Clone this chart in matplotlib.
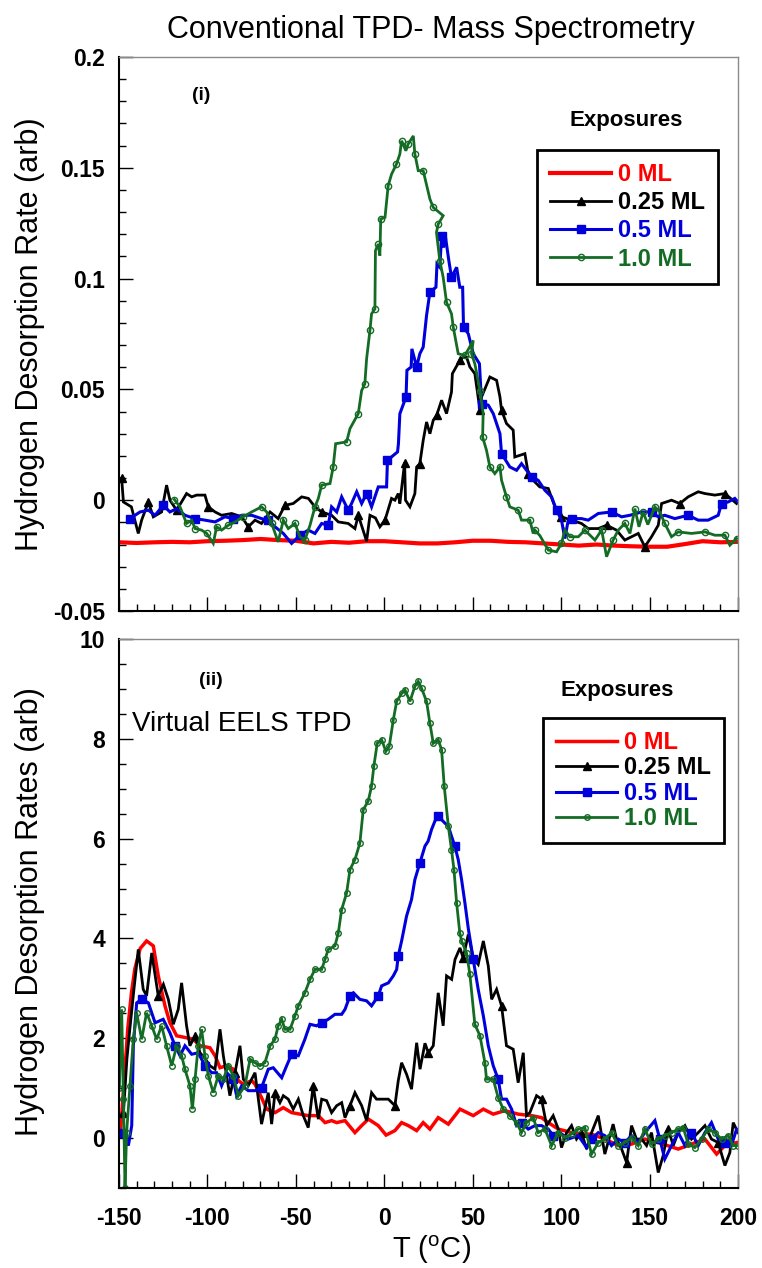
import matplotlib
matplotlib.use("Agg")
import matplotlib.pyplot as plt
from matplotlib.ticker import MultipleLocator

plt.rcParams['font.family'] = ['Liberation Sans', 'DejaVu Sans']
plt.rcParams['mathtext.fontset'] = 'custom'
plt.rcParams['mathtext.rm'] = 'Liberation Sans'
plt.rcParams['axes.unicode_minus'] = False

# ---------------- data ----------------
labels = ['0 ML', '0.25 ML', '0.5 ML', '1.0 ML']
colors = ['#ff0000', '#000000', '#0000dd', '#136b24']

# Panel (i): conventional TPD
top_T_0 = [-150,-140,-130,-120,-110,-100,-90,-80,-70,-60,-50,-40,-30,-20,-10,0,10,20,30,40,50,60,70,80,90,100,110,120,130,140,150,160,170,180,190,200]
top_v_0 = [-0.0190,-0.0193,-0.0190,-0.0188,-0.0190,-0.0185,-0.0183,-0.0180,-0.0175,-0.0180,-0.0183,-0.0195,-0.0188,-0.0192,-0.0185,-0.0185,-0.0190,-0.0195,-0.0195,-0.0190,-0.0183,-0.0183,-0.0188,-0.0190,-0.0195,-0.0200,-0.0205,-0.0200,-0.0205,-0.0208,-0.0210,-0.0210,-0.0198,-0.0185,-0.0190,-0.0188]

top_T_1 = [-148.5,-147.5,-143.0,-139.1,-137.2,-133.4,-130.6,-125.9,-123.1,-121.2,
           -117.4,-111.8,-108.9,-106.1,-101.4,-99.5,-95.7,-92.0,-86.3,-80.6,
           -76.9,-73.1,-69.4,-64.6,-60.0,-56.2,-51.5,-46.7,-42.9,-39.2,
           -35.4,-29.8,-26.0,-20.4,-16.6,-14.7,-10.0,-8.1,-5.0,-2.5,
           0.4,4.1,6.0,7.9,8.8,11.5,12.0,14.5,17.3,18.3,
           20.1,22.0,23.9,25.8,27.7,29.6,32.4,35.2,38.0,38.5,
           42.7,44.6,46.5,48.4,51.2,54.1,55.0,59.7,63.5,65.4,
           66.3,69.1,72.9,73.8,79.5,81.4,84.2,87.9,92.7,96.5,
           100.2,105.9,111.5,115.3,121.0,125.7,131.3,136.0,139.8,143.6,
           147.3,151.1,154.9,156.8,162.4,167.1,171.8,177.5,181.3,186.9,
           192.6,199.2]
top_v_1 = [0.0098,-0.0008,-0.0030,-0.0150,-0.0090,-0.0008,-0.0075,-0.0053,0.0068,0.0000,
           -0.0045,0.0030,0.0015,0.0023,0.0023,-0.0030,-0.0053,-0.0068,-0.0060,-0.0075,
           -0.0120,-0.0090,-0.0105,-0.0053,-0.0083,-0.0023,-0.0015,0.0015,0.0008,-0.0030,
           -0.0053,-0.0068,-0.0098,-0.0105,-0.0128,-0.0068,-0.0185,-0.0068,-0.0080,-0.0120,
           -0.0090,0.0008,0.0000,0.0030,-0.0015,0.0170,0.0000,-0.0030,0.0030,0.0150,
           0.0165,0.0270,0.0353,0.0300,0.0361,0.0383,0.0451,0.0391,0.0488,0.0571,
           0.0631,0.0646,0.0646,0.0601,0.0571,0.0406,0.0466,0.0556,0.0541,0.0466,
           0.0406,0.0346,0.0316,0.0195,0.0210,0.0120,0.0090,0.0060,0.0053,-0.0030,
           -0.0075,-0.0090,-0.0105,-0.0128,-0.0128,-0.0113,-0.0135,-0.0180,-0.0165,-0.0150,
           -0.0210,-0.0165,-0.0113,-0.0015,0.0000,-0.0015,0.0015,0.0038,0.0030,0.0023,
           0.0030,-0.0015]

top_T_2 = [-143.8,-138.1,-133.4,-129.6,-125.0,-121.2,-117.4,-112.7,-107.0,-101.4,
           -95.7,-90.1,-85.4,-80.6,-75.0,-69.4,-65.6,-61.8,-57.1,-52.4,
           -47.7,-43.0,-39.2,-35.4,-31.7,-29.8,-26.9,-24.1,-20.4,-18.5,
           -15.6,-12.8,-10.0,-7.2,-3.4,1.3,1.8,7.5,8.0,8.8,
           12.3,12.8,15.2,15.6,18.3,20.1,22.0,23.9,25.8,29.2,
           29.8,31.4,32.4,33.5,34.5,36.5,38.0,40.9,42.7,44.3,
           44.8,47.5,50.3,53.8,55.0,58.8,61.6,65.4,66.3,71.0,
           74.8,77.6,83.3,87.0,90.8,94.6,97.4,100.2,102.1,104.0,
           105.9,111.5,115.3,121.0,128.5,134.2,138.9,145.5,151.1,154.9,
           158.6,164.3,171.8,177.5,183.1,188.8,190.7,194.4,198.2,200.0]
top_v_2 = [-0.0083,-0.0053,-0.0045,-0.0068,-0.0023,-0.0053,-0.0038,-0.0068,-0.0083,-0.0090,
           -0.0098,-0.0075,-0.0083,-0.0068,-0.0068,-0.0083,-0.0090,-0.0120,-0.0150,-0.0195,
           -0.0158,-0.0135,-0.0150,-0.0105,-0.0113,-0.0030,-0.0053,0.0015,-0.0045,-0.0015,
           0.0038,-0.0015,0.0030,-0.0030,0.0060,0.0060,0.0180,0.0218,0.0255,0.0390,
           0.0466,0.0586,0.0601,0.0683,0.0601,0.0661,0.0691,0.0834,0.0939,0.0961,
           0.1066,0.1051,0.1194,0.1140,0.1194,0.1081,0.1006,0.1051,0.0961,0.0961,
           0.0781,0.0751,0.0661,0.0616,0.0436,0.0429,0.0391,0.0300,0.0210,0.0150,
           0.0135,0.0165,0.0105,0.0090,0.0045,0.0015,-0.0045,-0.0090,-0.0173,-0.0090,
           -0.0083,-0.0083,-0.0090,-0.0060,-0.0053,-0.0075,-0.0068,-0.0053,-0.0053,-0.0075,
           -0.0068,-0.0083,-0.0068,-0.0090,-0.0090,-0.0068,-0.0015,-0.0008,0.0008,-0.0008]

top_T_3 = [-118.7,-115.5,-111.8,-108.9,-107.0,-103.3,-100.4,-96.7,-94.8,-92.0,
           -88.2,-84.4,-79.7,-75.0,-69.4,-66.5,-63.7,-60.0,-57.1,-54.3,
           -50.5,-47.7,-44.9,-42.0,-39.2,-37.3,-35.4,-30.7,-28.9,-27.5,
           -21.3,-19.4,-14.7,-12.8,-11.0,-10.0,-8.1,-7.2,-5.3,-5.0,
           -3.4,-2.5,-2.0,0.4,2.2,4.1,6.9,8.8,9.8,12.2,
           13.5,16.4,17.3,19.2,22.0,25.8,27.7,33.3,30.5,29.5,
           31.4,33.3,35.2,38.0,39.0,41.8,45.6,50.3,49.3,51.2,
           54.1,55.9,55.6,57.8,59.7,62.5,65.4,66.3,69.1,71.0,
           75.7,77.6,82.3,84.2,85.2,88.0,92.7,97.4,100.2,102.1,
           105.0,109.7,113.4,119.1,122.9,125.7,129.4,132.3,136.0,138.9,
           141.7,144.0,146.4,149.0,153.0,155.8,158.6,162.4,166.2,173.7,
           181.3,186.9,192.6,195.4,199.2]
top_v_3 = [0.0003,-0.0030,-0.0105,-0.0090,-0.0128,-0.0135,-0.0150,-0.0195,-0.0120,-0.0135,
           -0.0113,-0.0098,-0.0075,-0.0053,-0.0030,-0.0053,-0.0105,-0.0188,-0.0090,-0.0128,
           -0.0105,-0.0165,-0.0180,-0.0113,-0.0030,0.0008,0.0068,0.0075,0.0150,0.0255,
           0.0263,0.0323,0.0391,0.0495,0.0525,0.0638,0.0766,0.0841,0.0863,0.1126,
           0.1156,0.1104,0.1269,0.1276,0.1419,0.1471,0.1517,0.1562,0.1622,0.1577,
           0.1607,0.1644,0.1562,0.1487,0.1487,0.1359,0.1321,0.1284,0.1246,0.1209,
           0.1081,0.1006,0.0893,0.0841,0.0781,0.0661,0.0653,0.0721,0.0661,0.0616,
           0.0495,0.0391,0.0285,0.0225,0.0150,0.0120,0.0150,0.0090,0.0015,-0.0030,
           -0.0045,-0.0090,-0.0090,-0.0150,-0.0135,-0.0160,-0.0225,-0.0233,-0.0195,-0.0135,
           -0.0165,-0.0165,-0.0135,-0.0180,-0.0135,-0.0255,-0.0180,-0.0135,-0.0105,-0.0150,
           -0.0038,-0.0120,-0.0053,-0.0110,-0.0030,-0.0053,-0.0105,-0.0165,-0.0143,-0.0150,
           -0.0143,-0.0158,-0.0158,-0.0203,-0.0173]

# Panel (ii): virtual EELS TPD
bot_T_0 = [-149.0,-147.0,-145.0,-143.0,-141.0,-138.0,-134.4,-130.6,-127.8,-124.0,
           -121.2,-117.4,-111.8,-108.0,-104.2,-98.6,-95.7,-92.9,-89.1,-85.4,
           -82.5,-79.7,-75.0,-73.1,-69.4,-66.5,-61.8,-57.1,-52.4,-47.7,
           -43.0,-37.3,-33.5,-29.8,-26.9,-22.2,-16.6,-12.8,-9.0,-3.4,
           1.0,6.0,9.8,13.6,18.3,22.0,25.8,30.5,36.2,42.8,
           50.3,56.0,61.6,68.2,75.7,83.3,88.9,92.7,98.4,105.9,
           111.5,117.2,124.7,132.3,139.8,147.3,154.9,166.2,173.7,181.3,
           187.9,192.6,199.2]
bot_v_0 = [0.2,1.2,2.2,2.9,3.4,3.8,3.95,3.85,3.25,2.65,
           2.31,2.05,2.01,1.98,1.85,1.81,1.65,1.41,1.45,1.38,
           1.15,1.08,1.15,1.08,0.81,0.58,0.51,0.61,0.51,0.48,
           0.45,0.45,0.31,0.35,0.31,0.35,0.11,0.25,0.38,0.25,
           0.06,0.15,0.31,0.25,0.15,0.31,0.18,0.41,0.28,0.58,
           0.45,0.58,0.48,0.55,0.48,0.45,0.41,0.31,0.18,0.11,
           0.08,0.08,-0.02,-0.15,-0.12,-0.02,-0.09,-0.22,-0.12,-0.02,
           -0.32,-0.15,-0.09]

bot_T_1 = [-147.5,-145.5,-143.8,-141.5,-139.1,-136.3,-134.4,-131.5,-127.8,-124.9,
           -122.1,-119.3,-116.5,-114.6,-111.8,-109.9,-107.0,-104.2,-101.5,-98.6,
           -95.7,-92.9,-91.0,-87.3,-84.4,-81.6,-79.7,-76.9,-73.1,-69.4,
           -65.6,-63.7,-61.8,-59.0,-57.1,-54.3,-51.5,-48.6,-45.8,-43.0,
           -40.2,-37.3,-35.4,-32.6,-29.8,-26.9,-24.1,-22.2,-19.4,-16.6,
           -12.8,-10.0,-7.2,-4.4,-1.5,2.3,6.0,7.9,9.8,12.6,
           15.4,18.3,20.2,23.0,24.9,27.7,30.5,33.3,35.2,38.1,
           40.0,42.8,44.6,47.5,50.3,53.1,56.0,58.8,60.7,63.5,
           66.3,69.1,72.9,75.7,78.6,80.4,82.3,86.1,88.9,91.8,
           95.5,98.4,100.2,103.1,105.9,108.7,111.5,114.4,117.2,121.0,
           124.7,129.4,131.3,134.2,137.0,139.8,142.6,145.5,148.3,151.1,
           154.9,157.7,160.5,163.4,166.2,170.0,173.7,177.5,181.3,185.0,
           188.8,192.6,195.4,197.3,200.0]
bot_v_1 = [0.5,1.6,2.21,3.0,3.78,2.98,2.85,3.71,2.85,3.08,
           2.78,2.28,2.58,3.11,2.25,1.85,2.05,1.71,1.60,1.45,
           1.38,2.18,1.65,0.85,1.31,1.85,1.18,1.05,1.31,0.28,
           0.91,0.28,0.91,0.71,0.85,0.78,0.58,0.78,0.45,0.21,
           1.05,0.38,0.78,0.75,0.51,0.65,0.71,0.41,0.65,0.91,
           0.65,0.35,0.91,0.78,0.78,0.78,0.65,1.15,1.51,1.28,
           0.98,1.91,1.38,1.90,1.71,1.85,2.91,2.25,3.25,3.18,
           3.58,3.81,3.61,4.08,3.61,3.48,3.95,3.45,2.78,2.98,
           2.65,1.85,1.78,1.11,1.71,0.45,0.51,0.85,0.78,0.25,
           0.45,0.18,-0.19,0.11,0.25,-0.02,0.11,-0.22,0.11,0.45,
           -0.32,0.28,-0.02,-0.22,-0.49,0.25,-0.02,-0.02,-0.15,0.11,
           -0.69,-0.35,0.18,-0.15,0.11,0.25,-0.02,0.11,0.25,-0.02,
           -0.09,-0.55,-0.29,0.31,0.11]

bot_T_2 = [-147.5,-144.7,-142.8,-141.9,-140.0,-137.2,-133.4,-129.6,-125.0,-121.2,
           -118.3,-115.5,-112.7,-108.9,-105.2,-101.4,-97.6,-94.8,-92.0,-89.1,
           -85.4,-83.5,-80.6,-76.9,-73.1,-69.4,-65.6,-62.8,-58.0,-55.2,
           -52.4,-48.6,-44.9,-42.0,-38.3,-35.4,-31.7,-27.9,-24.1,-22.2,
           -19.4,-17.5,-13.8,-10.0,-7.2,-3.4,-1.5,2.3,5.1,7.0,
           7.9,9.8,12.6,15.4,17.3,20.1,23.0,24.8,26.7,28.6,
           30.5,32.4,34.3,36.2,38.0,39.9,41.8,43.7,45.6,47.5,
           50.3,53.1,56.0,58.8,61.6,64.4,66.3,69.1,72.0,74.8,
           77.6,81.4,85.2,88.9,92.7,95.5,99.3,104.0,109.7,114.4,
           117.2,121.0,124.7,128.5,132.3,136.0,139.8,143.6,147.3,153.0,
           155.8,158.6,162.4,166.2,170.0,173.7,177.5,181.3,185.0,188.8,
           192.6,196.3,199.2]
bot_v_2 = [0.11,-0.15,0.25,1.85,2.71,2.78,2.71,2.31,2.38,2.11,
           1.85,1.65,1.85,1.68,1.71,1.45,1.31,1.31,1.05,1.31,
           1.18,0.85,1.05,0.95,0.95,1.01,1.38,1.41,1.21,1.45,
           1.68,1.65,1.98,2.28,2.25,2.31,2.38,2.48,2.48,2.58,
           2.85,2.91,2.78,2.75,2.65,2.85,3.05,3.11,3.25,3.38,
           3.65,3.95,4.45,4.78,5.18,5.51,5.85,5.95,6.18,6.35,
           6.45,6.38,6.31,6.25,6.05,5.85,5.58,5.18,4.71,4.20,
           3.58,2.98,2.45,1.85,1.45,1.18,0.78,0.78,0.58,0.25,
           0.31,0.18,0.25,0.25,0.18,0.05,0.11,-0.02,0.05,-0.19,
           -0.02,0.11,0.05,-0.15,-0.02,-0.09,0.05,-0.09,0.11,0.35,
           -0.02,-0.42,-0.15,0.11,-0.15,0.11,-0.15,0.11,0.31,-0.02,
           -0.09,-0.15,0.18]

bot_T_3 = [-149.8,-148.5,-147.5,-146.6,-145.7,-143.8,-141.9,-140.0,-137.2,-134.4,
           -131.5,-128.7,-125.9,-123.1,-120.2,-117.4,-114.6,-112.7,-109.9,-108.5,
           -107.0,-105.2,-103.3,-101.4,-99.5,-96.7,-93.9,-91.0,-88.2,-85.4,
           -82.5,-78.8,-75.9,-73.1,-70.3,-67.5,-64.6,-61.8,-60.0,-58.0,
           -56.2,-53.3,-50.5,-48.6,-44.9,-42.0,-39.2,-35.4,-33.5,-31.7,
           -27.9,-26.0,-24.1,-21.3,-19.4,-16.6,-13.8,-11.9,-9.1,-7.2,
           -5.9,-4.0,-1.5,0.9,2.8,5.1,7.0,9.8,11.7,14.5,
           17.3,19.2,21.1,23.9,25.8,27.7,30.5,32.4,33.9,36.2,
           38.0,39.4,40.9,42.7,43.7,46.5,48.4,51.2,54.1,56.9,
           57.8,61.6,64.4,67.3,71.0,74.8,77.6,80.4,84.2,87.0,
           90.8,94.6,98.4,102.1,105.9,109.7,113.4,117.2,121.0,124.7,
           128.5,132.3,136.0,139.8,143.6,147.3,151.1,154.9,158.6,162.4,
           166.2,169.0,171.9,175.6,179.4,183.1,186.9,190.7,194.5,197.3,
           200.0]
bot_v_3 = [1.0,2.58,0.78,-1.0,0.11,1.05,1.98,2.51,1.98,2.51,
           2.25,1.98,2.25,1.85,1.45,1.85,1.65,1.38,1.05,0.58,
           1.18,1.85,2.18,1.65,1.25,0.91,1.25,1.18,1.45,1.25,
           0.85,1.05,1.58,1.51,1.45,1.51,1.85,1.98,2.25,2.38,
           2.18,2.18,2.45,2.65,2.91,3.18,3.38,3.38,3.58,3.78,
           3.85,4.11,4.58,4.91,5.38,5.58,5.91,6.58,6.75,7.05,
           7.45,7.91,7.98,7.75,7.85,8.38,8.75,8.91,8.98,8.75,
           9.05,9.15,9.01,8.75,8.31,7.91,7.98,7.78,7.05,6.25,
           5.78,5.38,4.71,4.11,3.95,3.71,3.28,2.28,2.05,1.51,
           1.18,1.18,0.81,0.58,0.45,0.31,0.11,0.31,0.41,0.11,
           0.18,-0.15,0.11,0.01,0.08,0.18,0.21,-0.32,-0.09,-0.02,
           0.11,-0.15,-0.09,0.01,-0.15,0.18,-0.12,-0.02,0.05,0.11,
           0.18,0.21,-0.12,-0.19,-0.02,0.18,0.11,-0.02,0.05,-0.15,
           -0.15]

x_ticks = [-150, -100, -50, 0, 50, 100, 150, 200]
x_ticklabels = ['-150', '-100', '-50', '0', '50', '100', '150', '200']
top_yticks = [-0.05, 0, 0.05, 0.1, 0.15, 0.2]
top_yticklabels = ['-0.05', '0', '0.05', '0.1', '0.15', '0.2']
bot_yticks = [0, 2, 4, 6, 8, 10]
bot_yticklabels = ['0', '2', '4', '6', '8', '10']

# ---------------- figure ----------------
W, H = 762, 1268
fig = plt.figure(figsize=(W / 100, H / 100), dpi=100)
ax1 = fig.add_axes([119 / W, 1 - 611 / H, 619 / W, 554 / H])
ax2 = fig.add_axes([119 / W, 1 - 1188 / H, 619 / W, 549 / H])

markers = [None, '^', 's', 'o']


def draw(ax, Ts, Vs, lws, msizes, every):
    handles = []
    for i in range(4):
        kw = dict(color=colors[i], lw=lws[i], solid_joinstyle='miter')
        if markers[i] is not None:
            kw.update(marker=markers[i], ms=msizes[i], markevery=every[i])
            if markers[i] == 'o':
                kw.update(mfc='none', mec=colors[i], mew=1.0)
            else:
                kw.update(mfc=colors[i], mec=colors[i])
        h, = ax.plot(Ts[i], Vs[i], label=labels[i], **kw)
        handles.append(h)
    return handles


h1 = draw(ax1, [top_T_0, top_T_1, top_T_2, top_T_3],
          [top_v_0, top_v_1, top_v_2, top_v_3],
          [3.0, 2.0, 2.2, 2.0], [0, 5.5, 5.5, 4.5], [None, 5, 4, 2])
h2 = draw(ax2, [bot_T_0, bot_T_1, bot_T_2, bot_T_3],
          [bot_v_0, bot_v_1, bot_v_2, bot_v_3],
          [2.5, 2.0, 2.2, 2.0], [0, 5.5, 5.5, 4.0], [None, 8, 5, 1])

for ax in (ax1, ax2):
    ax.set_xlim(-150, 200)
    ax.set_xticks(x_ticks)
    ax.xaxis.set_minor_locator(MultipleLocator(10))
    ax.tick_params(axis='both', which='major', direction='in', length=10, width=1,
                   top=False, right=False, labelsize=16.5)
    ax.tick_params(axis='both', which='minor', direction='in', length=5, width=1,
                   top=False, right=False)
    ax.tick_params(axis='x', which='major', pad=14)
    ax.tick_params(axis='y', which='major', pad=10)
    for s in ('top', 'right'):
        ax.spines[s].set_color('#8a8a8a')
        ax.spines[s].set_linewidth(1.0)
    for s in ('left', 'bottom'):
        ax.spines[s].set_color('black')
        ax.spines[s].set_linewidth(1.5)

ax1.set_ylim(-0.05, 0.2)
ax1.set_yticks(top_yticks)
ax1.set_yticklabels(top_yticklabels, fontweight='bold')
ax1.yaxis.set_minor_locator(MultipleLocator(0.01))
ax1.set_xticklabels([])

ax2.set_ylim(-1.0, 10.0)
ax2.set_yticks(bot_yticks)
ax2.set_yticklabels(bot_yticklabels, fontweight='bold')
ax2.yaxis.set_minor_locator(MultipleLocator(0.5))
ax2.set_xticklabels(x_ticklabels, fontweight='bold')


def legend(ax, handles, anchor, spacing):
    leg = ax.legend(handles, labels, loc='upper left', bbox_to_anchor=anchor,
                    borderaxespad=0, frameon=True, fancybox=False,
                    edgecolor='black', framealpha=1,
                    prop=dict(weight='bold', size=17), handlelength=2.6,
                    handletextpad=0.3, labelspacing=spacing, borderpad=0.55)
    leg.get_frame().set_linewidth(2.0)
    for t, c in zip(leg.get_texts(), colors):
        t.set_color(c)
    return leg


legend(ax1, h1, (0.675, 0.832), 0.22)
legend(ax2, h2, (0.685, 0.856), 0.10)

ax1.text(0.132, 0.930, '(i)', transform=ax1.transAxes, ha='center', va='center',
         fontsize=14, fontweight='bold')
ax2.text(0.149, 0.925, '(ii)', transform=ax2.transAxes, ha='center', va='center',
         fontsize=14, fontweight='bold')
ax2.text(0.021, 0.845, 'Virtual EELS TPD', transform=ax2.transAxes, ha='left',
         va='center', fontsize=20)
ax1.text(0.819, 0.886, 'Exposures', transform=ax1.transAxes, ha='center',
         va='center', fontsize=16, fontweight='bold')
ax2.text(0.805, 0.907, 'Exposures', transform=ax2.transAxes, ha='center',
         va='center', fontsize=16, fontweight='bold')

fig.text(431 / W, 1 - 38 / H, 'Conventional TPD- Mass Spectrometry',
         ha='center', va='baseline', fontsize=22)
fig.text(30 / W, 1 - 334 / H, 'Hydrogen Desorption Rate (arb)', rotation=90,
         ha='center', va='center', fontsize=22)
fig.text(30 / W, 1 - 912 / H, 'Hydrogen Desorption Rates (arb)', rotation=90,
         ha='center', va='center', fontsize=22)
fig.text(432 / W, 1 - 1250 / H, 'T ($\\mathregular{^{o}}$C)', ha='center',
         va='center', fontsize=21)

fig.savefig('out.png', dpi=100)
